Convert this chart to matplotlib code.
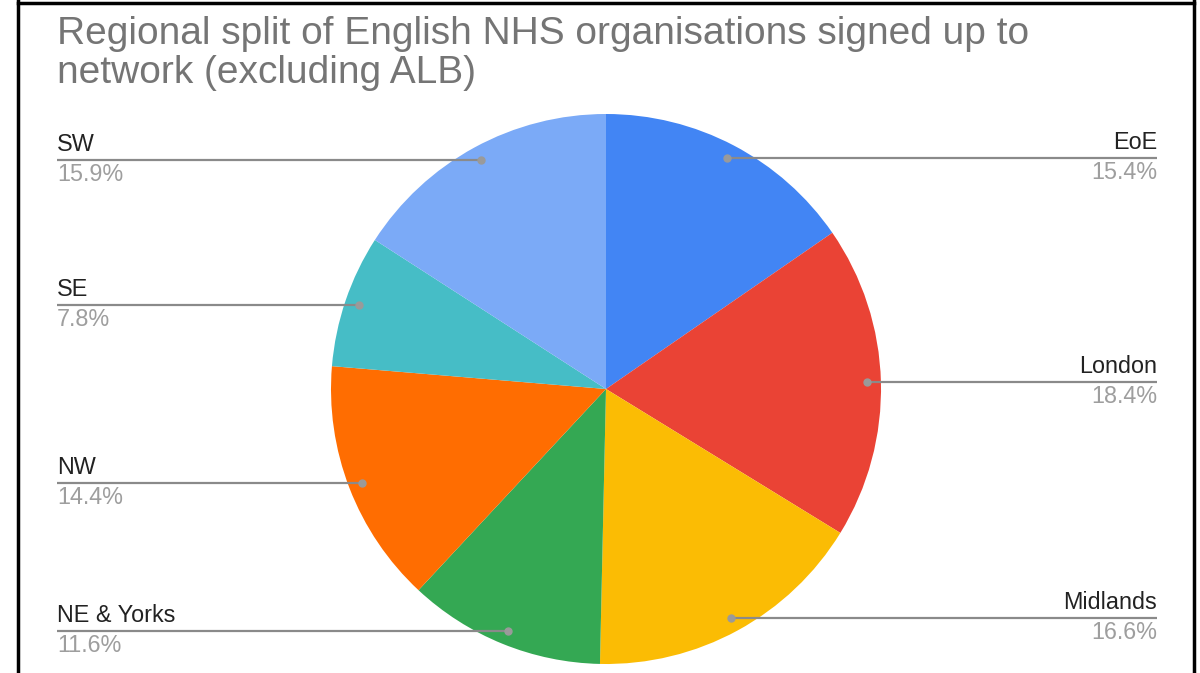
import numpy as np
import matplotlib.pyplot as plt
from matplotlib.lines import Line2D

# Data (clockwise from 12 o'clock)
regions = ['EoE', 'London', 'Midlands', 'NE & Yorks', 'NW', 'SE', 'SW']
shares = [15.4, 18.4, 16.6, 11.6, 14.4, 7.8, 15.9]

colours = ['#4285F4', '#EA4335', '#FBBC04', '#34A853', '#FF6D01', '#46BDC6', '#7BAAF7']

plt.rcParams['font.family'] = ['Liberation Sans', 'DejaVu Sans']

W, H = 1200, 673
fig = plt.figure(figsize=(W / 100, H / 100), dpi=100)
ax = fig.add_axes([0, 0, 1, 1])

# pie geometry in pixel units (y up)
cx, cy, R = 606, H - 389, 275
wedges, _ = ax.pie(shares, colors=colours, startangle=90, counterclock=False,
                   center=(cx, cy), radius=R,
                   wedgeprops=dict(linewidth=0))
ax.set_xlim(0, W)
ax.set_ylim(0, H)
ax.set_aspect('equal')
ax.axis('off')

# leader lines and labels
total = sum(shares)
cum = 0.0
for name, val in zip(regions, shares):
    mid = 90 - (cum + val / 2) / total * 360
    cum += val
    a = np.deg2rad(mid)
    px, py = cx + 0.95 * R * np.cos(a), cy + 0.95 * R * np.sin(a)
    if np.cos(a) >= 0:
        x_end, ha = 1157, 'right'
    else:
        x_end, ha = 57, 'left'
    ax.plot([px, x_end], [py, py], color='#8a8a8a', lw=1.6, solid_capstyle='butt', zorder=3)
    ax.plot(px, py, 'o', color='#9a9a9a', ms=5, zorder=4)
    ax.text(x_end, py + 4, name, ha=ha, va='bottom', fontsize=16.8, color='#222222')
    ax.text(x_end, py - 3, f'{val:.1f}%', ha=ha, va='top', fontsize=16.8, color='#9e9e9e')

fig.text(57 / W, 1 - 16 / H, 'Regional split of English NHS organisations signed up to\nnetwork (excluding ALB)',
         ha='left', va='top', fontsize=28, color='#757575', linespacing=1.1)

# screenshot frame
for xs, ys in [([18, 18], [0, H]), ([18, 1194], [H - 3, H - 3]), ([1194, 1194], [0, H])]:
    fig.add_artist(Line2D(np.array(xs) / W, np.array(ys) / H, color='black', lw=2.5))

fig.savefig('out.png', dpi=100, facecolor='white')
